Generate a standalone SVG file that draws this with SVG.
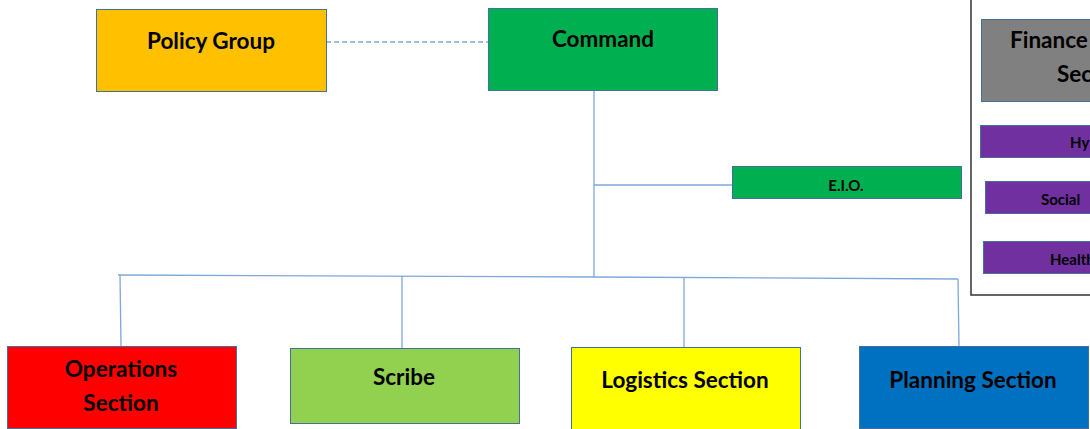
<svg xmlns="http://www.w3.org/2000/svg" width="1090" height="429" viewBox="0 0 1090 429">
<style>
.box{stroke:#41719C;stroke-width:1}
.t{font-family:Lato,"Open Sans","Liberation Sans",sans-serif;font-weight:bold;font-size:22.5px;fill:#000;text-anchor:middle}
.s{font-size:15px}
.l{text-anchor:start}
.c{stroke:#7FA7D9;stroke-width:1.3;fill:none}
</style>
<rect width="1090" height="429" fill="#fff"/>
<g id="connectors">
<line class="c" x1="326" y1="42" x2="488" y2="42" stroke-dasharray="5,3"/>
<line class="c" x1="594" y1="90" x2="594" y2="277"/>
<line class="c" x1="594" y1="185" x2="732" y2="185"/>
<polyline class="c" points="118,275 594,277 958,279"/>
<line class="c" x1="120" y1="275" x2="121" y2="346"/>
<line class="c" x1="402" y1="276" x2="402" y2="348"/>
<line class="c" x1="684" y1="278" x2="684" y2="347"/>
<line class="c" x1="958" y1="279" x2="959" y2="346"/>
</g>
<g id="policy"><rect class="box" x="96.5" y="9.5" width="230" height="82" fill="#FFC000"/><text class="t" x="211" y="49">Policy Group</text></g>
<g id="command"><rect class="box" x="488.5" y="8.5" width="229" height="82" fill="#00B050"/><text class="t" x="603" y="47">Command</text></g>
<g id="eio"><rect class="box" x="732.5" y="166.5" width="229" height="32" fill="#00B050"/><text class="t s" x="846" y="191">E.I.O.</text></g>
<g id="operations"><rect class="box" x="7.5" y="346.5" width="229" height="82" fill="#FF0000"/><text class="t" x="121" y="377">Operations</text><text class="t" x="121" y="411">Section</text></g>
<g id="scribe"><rect class="box" x="290.5" y="348.5" width="229" height="75" fill="#92D050"/><text class="t" x="404" y="385">Scribe</text></g>
<g id="logistics"><rect class="box" x="571.5" y="347.5" width="229" height="82" fill="#FFFF00"/><text class="t" x="685" y="388">Logistics Section</text></g>
<g id="planning"><rect class="box" x="859.5" y="346.5" width="229" height="82" fill="#0070C0"/><text class="t" x="973" y="388">Planning Section</text></g>
<g id="panel"><rect x="971" y="-5" width="130" height="300" fill="#fff" stroke="#333" stroke-width="1.5"/></g>
<g id="finance"><rect class="box" x="981.5" y="19.5" width="120" height="82" fill="#808080"/><text class="t l" x="1010" y="48">Finance</text><text class="t l" x="1057" y="82">Section</text></g>
<g id="hy"><rect class="box" x="980.5" y="125.5" width="120" height="32" fill="#7030A0"/><text class="t s l" x="1070" y="148">Hy</text></g>
<g id="social"><rect class="box" x="985.5" y="181.5" width="120" height="32" fill="#7030A0"/><text class="t s l" x="1041" y="205">Social</text></g>
<g id="health"><rect class="box" x="983.5" y="241.5" width="120" height="32" fill="#7030A0"/><text class="t s l" x="1050" y="265">Health</text></g>
</svg>
